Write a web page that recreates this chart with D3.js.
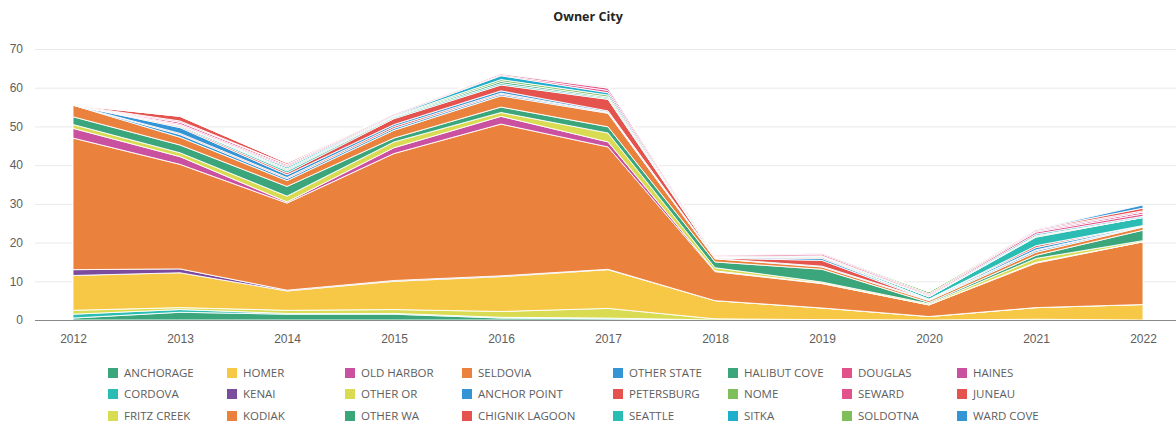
<!DOCTYPE html>
<html>
<head>
<meta charset="utf-8">
<script src="https://cdn.jsdelivr.net/npm/d3@7"></script>
<style>
  body { margin: 0; background: #fff; font-family: "Open Sans", "Noto Sans", sans-serif; }
  .title { font-size: 12.5px; font-weight: bold; fill: #252423; }
  .tick text { fill: #605e5c; font-size: 12px; }
  .legend text { fill: #605e5c; font-size: 11.5px; }
</style>
</head>
<body>
<div id="chart"></div>
<script>
const years = [2012, 2013, 2014, 2015, 2016, 2017, 2018, 2019, 2020, 2021, 2022];
const yTicks = [0, 10, 20, 30, 40, 50, 60, 70];

// stack order, bottom to top
const cities = [
  'ANCHORAGE', 'CORDOVA', 'FRITZ CREEK', 'HOMER', 'KENAI', 'KODIAK',
  'OLD HARBOR', 'OTHER OR', 'OTHER WA', 'SELDOVIA', 'ANCHOR POINT', 'CHIGNIK LAGOON',
  'OTHER STATE', 'PETERSBURG', 'SEATTLE', 'HALIBUT COVE', 'NOME', 'SITKA',
  'DOUGLAS', 'SEWARD', 'SOLDOTNA', 'HAINES', 'JUNEAU', 'WARD COVE'
];

const cityColors = [
  '#3ba57b', '#2bbdb3', '#d9dc52', '#f6c845', '#7b4b9d', '#ea823d',
  '#c951a0', '#d9dc52', '#3ba57b', '#ea823d', '#3395d6', '#e5534f',
  '#3395d6', '#e5534f', '#2bbdb3', '#3ba57b', '#7fbf5b', '#1faecb',
  '#e1528b', '#e1528b', '#7fbf5b', '#c951a0', '#e5534f', '#3395d6'
];

// values per city, one per year 2012..2022
const anchorage    = [0.5, 2.0, 1.5, 1.5, 0.5, 0.3, 0.0, 0.0, 0.0, 0.0, 0.0];
const cordova      = [1.0, 0.7, 0.2, 0.2, 0.2, 0.2, 0.0, 0.0, 0.0, 0.0, 0.0];
const fritzCreek   = [1.0, 0.5, 0.8, 1.0, 1.5, 2.5, 0.3, 0.1, 0.0, 0.2, 0.0];
const homer        = [9.0, 9.0, 5.0, 7.3, 9.0, 10.0, 4.7, 3.0, 0.9, 3.0, 4.0];
const kenai        = [1.5, 1.0, 0.2, 0.2, 0.2, 0.1, 0.0, 0.0, 0.0, 0.0, 0.0];
const kodiak       = [34.0, 27.0, 22.5, 32.8, 39.2, 31.6, 7.5, 6.3, 3.0, 11.5, 16.2];
const oldHarbor    = [2.5, 2.0, 0.3, 1.5, 2.0, 1.3, 0.2, 0.1, 0.0, 0.2, 0.0];
const otherOr      = [1.0, 1.0, 1.5, 1.5, 1.0, 2.3, 0.8, 0.3, 0.3, 1.0, 0.3];
const otherWa      = [2.0, 2.0, 2.5, 1.0, 1.4, 1.6, 1.5, 3.3, 0.3, 0.8, 2.7];
const seldovia     = [3.0, 2.0, 1.5, 2.0, 2.9, 3.5, 0.8, 0.6, 0.5, 0.8, 0.8];
const anchorPoint  = [0.0, 0.7, 0.5, 0.5, 0.4, 0.2, 0.1, 0.2, 0.2, 0.4, 0.2];
const chignik      = [0.0, 0.3, 0.3, 0.5, 0.3, 0.1, 0.1, 1.5, 0.0, 0.2, 0.0];
const otherState   = [0.0, 1.5, 0.7, 0.5, 0.6, 0.3, 0.1, 0.5, 0.2, 0.6, 0.2];
const petersburg   = [0.0, 0.3, 0.5, 1.5, 1.5, 3.0, 0.1, 0.3, 0.0, 0.5, 0.0];
const seattle      = [0.0, 0.3, 0.5, 0.3, 0.4, 0.3, 0.1, 0.2, 0.6, 2.2, 2.1];
const halibutCove  = [0.0, 0.0, 0.3, 0.2, 0.5, 0.3, 0.0, 0.0, 0.0, 0.2, 0.0];
const nome         = [0.0, 0.0, 0.3, 0.2, 0.5, 0.5, 0.0, 0.0, 0.0, 0.2, 0.0];
const sitka        = [0.0, 0.0, 0.4, 0.2, 1.0, 0.6, 0.1, 0.2, 0.2, 0.4, 0.3];
const douglas      = [0.0, 0.3, 0.3, 0.3, 0.2, 0.6, 0.3, 0.4, 0.3, 0.5, 0.6];
const seward       = [0.0, 0.5, 0.4, 0.2, 0.3, 0.6, 0.2, 0.3, 0.3, 0.3, 0.5];
const soldotna     = [0.0, 0.0, 0.0, 0.0, 0.2, 0.2, 0.0, 0.0, 0.5, 0.0, 0.0];
const haines       = [0.0, 0.3, 0.0, 0.0, 0.0, 0.3, 0.0, 0.2, 0.0, 0.3, 0.3];
const juneau       = [0.0, 1.2, 0.4, 0.0, 0.0, 0.0, 0.0, 0.0, 0.0, 0.2, 0.7];
const wardCove     = [0.0, 0.0, 0.0, 0.0, 0.0, 0.0, 0.0, 0.0, 0.0, 0.0, 0.8];

const seriesValues = [
  anchorage, cordova, fritzCreek, homer, kenai, kodiak,
  oldHarbor, otherOr, otherWa, seldovia, anchorPoint, chignik,
  otherState, petersburg, seattle, halibutCove, nome, sitka,
  douglas, seward, soldotna, haines, juneau, wardCove
];

// legend is laid out row by row, 8 per row
const legendRows = [
  ['ANCHORAGE', 'HOMER', 'OLD HARBOR', 'SELDOVIA', 'OTHER STATE', 'HALIBUT COVE', 'DOUGLAS', 'HAINES'],
  ['CORDOVA', 'KENAI', 'OTHER OR', 'ANCHOR POINT', 'PETERSBURG', 'NOME', 'SEWARD', 'JUNEAU'],
  ['FRITZ CREEK', 'KODIAK', 'OTHER WA', 'CHIGNIK LAGOON', 'SEATTLE', 'SITKA', 'SOLDOTNA', 'WARD COVE']
];

const W = 1176, H = 430;
const svg = d3.select('#chart').append('svg')
  .attr('width', W)
  .attr('height', H);

const x = d3.scalePoint()
  .domain(years)
  .range([73, 1143]);

const y = d3.scaleLinear()
  .domain([0, 70])
  .range([320, 49]);

const color = d3.scaleOrdinal().domain(cities).range(cityColors);

svg.append('text')
  .attr('class', 'title')
  .attr('x', 588)
  .attr('y', 21)
  .attr('text-anchor', 'middle')
  .text('Owner City');

// gridlines + y labels
const yAxis = svg.append('g')
  .attr('transform', 'translate(35,0)')
  .call(d3.axisLeft(y).tickValues(yTicks).tickSize(-(W - 35)).tickPadding(12));
yAxis.select('.domain').remove();
yAxis.selectAll('.tick line').attr('stroke', '#e9e9e9');
yAxis.selectAll('.tick text').attr('x', -12);

const table = years.map((yr, i) => {
  const row = { year: yr };
  cities.forEach((c, j) => { row[c] = seriesValues[j][i]; });
  return row;
});

const stack = d3.stack().keys(cities);
const layers = stack(table);

const area = d3.area()
  .x(d => x(d.data.year))
  .y0(d => y(d[0]))
  .y1(d => y(d[1]));

svg.append('g')
  .selectAll('path')
  .data(layers)
  .enter()
  .append('path')
  .attr('d', area)
  .attr('fill', d => color(d.key))
  .attr('stroke', '#fff')
  .attr('stroke-width', 0.9)
  .attr('stroke-linejoin', 'round');

// x axis
const xAxis = svg.append('g')
  .attr('transform', 'translate(0,320)')
  .call(d3.axisBottom(x).tickSize(0).tickPadding(14));
xAxis.select('.domain').remove();
svg.append('line')
  .attr('x1', 35).attr('x2', W)
  .attr('y1', 320.5).attr('y2', 320.5)
  .attr('stroke', '#8a8886');

// legend
const colX = [108, 227, 345, 462, 613, 728, 842, 957];
const rowY = [373, 394, 416];
const legend = svg.append('g').attr('class', 'legend');
legendRows.forEach((row, r) => {
  row.forEach((name, c) => {
    const g = legend.append('g')
      .attr('transform', `translate(${colX[c]},${rowY[r]})`);
    g.append('rect')
      .attr('x', 0).attr('y', -5)
      .attr('width', 10).attr('height', 10)
      .attr('fill', color(name));
    g.append('text')
      .attr('x', 16)
      .attr('y', 0)
      .attr('dy', '0.35em')
      .text(name);
  });
});
</script>
</body>
</html>
